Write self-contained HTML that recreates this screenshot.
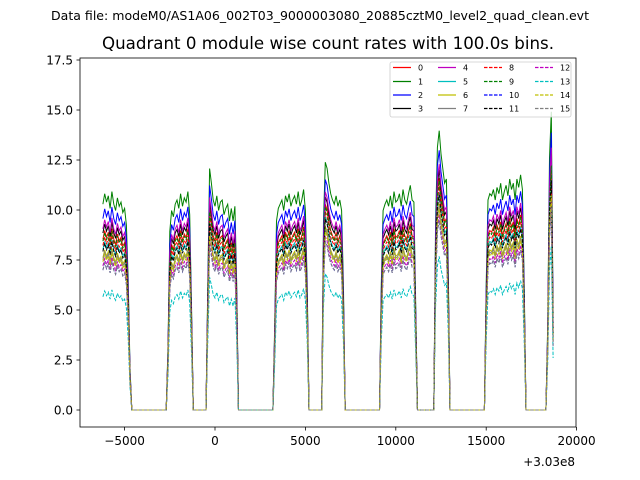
<!DOCTYPE html>
<html><head><meta charset="utf-8"><style>
body{margin:0;background:#fff;}
svg{display:block;font-family:"DejaVu Sans","Liberation Sans",sans-serif;}
</style></head><body>
<svg id="chart" width="640" height="480">
<rect x="0" y="0" width="640" height="480" fill="#fff"/>
<text x="320" y="20" font-size="12.5" text-anchor="middle" textLength="538" lengthAdjust="spacingAndGlyphs">Data file: modeM0/AS1A06_002T03_9000003080_20885cztM0_level2_quad_clean.evt</text>
<text x="328" y="49" font-size="16.5" text-anchor="middle" textLength="452" lengthAdjust="spacingAndGlyphs">Quadrant 0 module wise count rates with 100.0s bins.</text>
<g id="plot"></g>
<rect x="80" y="58" width="496" height="369" fill="none" stroke="#000" stroke-width="0.8"/>
<g id="axes"></g>
<g id="legend"></g>
<text x="575" y="466" font-size="12" text-anchor="end">+3.03e8</text>
</svg>
<script>
const seriesNames=["0","1","2","3","4","5","6","7","8","9","10","11","12","13","14","15"];
const seriesRatio=[0.83,1.0,0.93,0.86,0.88,0.78,0.74,0.73,0.8,0.82,0.68,0.77,0.7,0.55,0.72,0.68];
const baseLevel=10.5;
const segStarts=[-6200,-2600,-400,3300,6000,9200,12200,15000,18400];
const segValues=[
[0.98,1.03,0.99,1.02,0.96,1.04,0.98,0.95,1.01,0.97,0.99,0.94,0.96,0.88,0.62,0.2],
[0.3,0.85,0.95,0.92,0.98,1.0,0.96,1.03,0.97,1.01,0.99,1.04,0.93,0.5],
[0.6,1.15,1.08,1.0,0.97,1.02,0.95,0.99,1.0,0.93,0.96,0.98,0.9,0.96,0.9,0.97,0.6],
[0.4,0.9,0.96,0.98,1.0,0.95,1.02,0.99,1.03,0.97,1.0,1.02,0.98,1.04,0.97,1.0,1.05,0.95,0.6],
[0.9,1.18,1.15,1.08,1.03,1.0,0.98,1.02,0.97,1.0,0.95,0.6],
[0.6,0.95,0.98,1.0,0.97,1.02,0.96,1.04,0.99,1.0,1.03,0.97,1.05,1.0,0.98,1.03,1.07,1.0,0.99,0.5],
[0.9,1.25,1.33,1.22,1.15,1.08,1.1,0.7],
[0.6,1.0,1.03,1.02,1.05,1.0,1.06,1.03,1.08,1.0,1.04,1.07,1.02,1.1,1.05,1.08,1.0,1.1,1.06,1.12,1.05,0.6],
[0.4,1.2,1.42,0.45]
];
const timeStart=-6200, timeEnd=18700, binSize=100;
const xTicks=[-5000,0,5000,10000,15000,20000];
const xTickLabels=["\u22125000","0","5000","10000","15000","20000"];
const yTicks=[0,2.5,5,7.5,10,12.5,15,17.5];
const yTickLabels=["0.0","2.5","5.0","7.5","10.0","12.5","15.0","17.5"];
const colors=["#ff0000","#008000","#0000ff","#000000","#bf00bf","#00bfbf","#bfbf00","#808080"];

const NS="http://www.w3.org/2000/svg";
const X=t=>215+(t)*0.01808;
const Y=v=>410-v*20;
function profileAt(t){
  for(let i=0;i<segStarts.length;i++){
    const k=Math.round((t-segStarts[i])/binSize);
    if(k>=0&&k<segValues[i].length) return segValues[i][k];
  }
  return 0;
}
const plot=document.getElementById('plot');
for(let s=0;s<seriesNames.length;s++){
  let pts=[];
  for(let t=timeStart;t<=timeEnd;t+=binSize){
    const v=baseLevel*seriesRatio[s]*profileAt(t);
    pts.push(X(t).toFixed(1)+","+Y(v).toFixed(1));
  }
  const p=document.createElementNS(NS,'polyline');
  p.setAttribute('points',pts.join(' '));
  p.setAttribute('fill','none');
  p.setAttribute('stroke',colors[s%8]);
  p.setAttribute('stroke-width','1');
  if(s>=8)p.setAttribute('stroke-dasharray','3.5,1.5');
  
  
  plot.appendChild(p);
}
const axes=document.getElementById('axes');
xTicks.forEach((t,i)=>{
  const l=document.createElementNS(NS,'line');
  l.setAttribute('x1',X(t));l.setAttribute('x2',X(t));l.setAttribute('y1',427);l.setAttribute('y2',430.5);
  l.setAttribute('stroke','#000');l.setAttribute('stroke-width','0.8');
  
  
  axes.appendChild(l);
  const tx=document.createElementNS(NS,'text');
  tx.setAttribute('x',X(t));tx.setAttribute('y',445);tx.setAttribute('font-size','12');tx.setAttribute('text-anchor','middle');
  tx.textContent=xTickLabels[i];
  
  
  axes.appendChild(tx);
});
yTicks.forEach((v,i)=>{
  const l=document.createElementNS(NS,'line');
  l.setAttribute('x1',76.5);l.setAttribute('x2',80);l.setAttribute('y1',Y(v));l.setAttribute('y2',Y(v));
  l.setAttribute('stroke','#000');l.setAttribute('stroke-width','0.8');
  
  
  axes.appendChild(l);
  const tx=document.createElementNS(NS,'text');
  tx.setAttribute('x',73);tx.setAttribute('y',Y(v)+4.5);tx.setAttribute('font-size','12');tx.setAttribute('text-anchor','end');
  tx.textContent=yTickLabels[i];
  
  
  axes.appendChild(tx);
});
const leg=document.getElementById('legend');
const box=document.createElementNS(NS,'rect');
box.setAttribute('x',390);box.setAttribute('y',62);box.setAttribute('width',181);box.setAttribute('height',55);
box.setAttribute('rx',2);box.setAttribute('fill','#fff');box.setAttribute('fill-opacity','0.8');box.setAttribute('stroke','#ccc');box.setAttribute('stroke-width','0.8');


leg.appendChild(box);
const colX=[393,438,484,535], rowY=[67.5,81.5,95,108.5];
for(let s=0;s<16;s++){
  const c=Math.floor(s/4), r=s%4;
  const g=document.createElementNS(NS,'g');
  
  
  const l=document.createElementNS(NS,'line');
  l.setAttribute('x1',colX[c]);l.setAttribute('x2',colX[c]+18);l.setAttribute('y1',rowY[r]);l.setAttribute('y2',rowY[r]);
  l.setAttribute('stroke',colors[s%8]);l.setAttribute('stroke-width','1.2');
  if(s>=8)l.setAttribute('stroke-dasharray','3.5,1.5');
  g.appendChild(l);
  const tx=document.createElementNS(NS,'text');
  tx.setAttribute('x',colX[c]+25);tx.setAttribute('y',rowY[r]+3);tx.setAttribute('font-size','8');
  tx.textContent=seriesNames[s];
  g.appendChild(tx);
  leg.appendChild(g);
}
</script>
</body></html>
